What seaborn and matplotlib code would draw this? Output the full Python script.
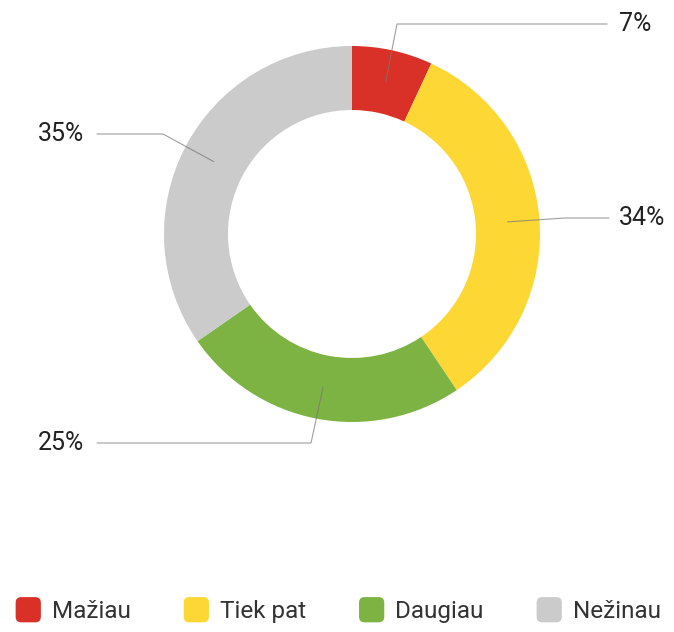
import numpy as np
import matplotlib.pyplot as plt
from matplotlib.patches import FancyBboxPatch, Patch
from matplotlib.legend_handler import HandlerPatch
import seaborn as sns

# data
categories = ['Mažiau', 'Tiek pat', 'Daugiau', 'Nežinau']
shares = [7, 34, 25, 35]
labels = ['7%', '34%', '25%', '35%']
colors = ['#d93127', '#fdd734', '#7cb342', '#cbcbcb']

sns.set_theme(style='white')
plt.rcParams['font.family'] = ['Roboto', 'DejaVu Sans']

W, H = 674, 632
fig = plt.figure(figsize=(W / 100, H / 100), dpi=100)
ax = fig.add_axes([0, 0, 1, 1])

# work in pixel-like coords, y measured from the top
cx, cy = 352, 234
R, ring = 188, 64

ax.pie(shares, colors=colors, startangle=90, counterclock=False,
       center=(cx, H - cy), radius=R,
       wedgeprops=dict(width=ring, linewidth=0))

# leader lines: start at mid-ring of each slice, bend, then run to the label
elbows = [(397, 24), (565, 218), (311, 443), (163, 134)]
line_ends = [607, 609, 97, 97]
text_x = [619, 619, 84, 84]
aligns = ['left', 'left', 'right', 'right']

total = sum(shares)
start = 90.0
mid_r = R - ring / 2
for share, lab, (ex, ey), lx, tx, ha in zip(shares, labels, elbows, line_ends, text_x, aligns):
    span = share / total * 360
    theta = np.deg2rad(start - span / 2)
    start -= span
    ax0 = cx + mid_r * np.cos(theta)
    ay0 = cy - mid_r * np.sin(theta)
    ax.plot([ax0, ex, lx], [H - ay0, H - ey, H - ey], color='#777777', lw=0.8,
            alpha=0.7, solid_joinstyle='miter')
    ax.text(tx, H - ey, lab, ha=ha, va='center', fontsize=18, color='#222222')

ax.set_xlim(0, W)
ax.set_ylim(0, H)
ax.set_aspect('equal')
ax.axis('off')


# rounded square legend keys
def rounded_key(legend, orig_handle, xdescent, ydescent, width, height, fontsize):
    s = min(width, height)
    return FancyBboxPatch((-xdescent + (width - s) / 2, -ydescent + (height - s) / 2), s, s,
                          boxstyle='round,pad=0,rounding_size=4')


handles = [Patch(facecolor=c, edgecolor='none') for c in colors]
fig.legend(handles, categories, loc='center', bbox_to_anchor=(0.5, 1 - 610 / H),
           ncol=4, frameon=False, fontsize=17.5, handlelength=1.22, handleheight=1.22,
           handletextpad=0.35, columnspacing=2.1, labelcolor='#333333',
           handler_map={Patch: HandlerPatch(patch_func=rounded_key)})

fig.savefig('out.png', dpi=100)
